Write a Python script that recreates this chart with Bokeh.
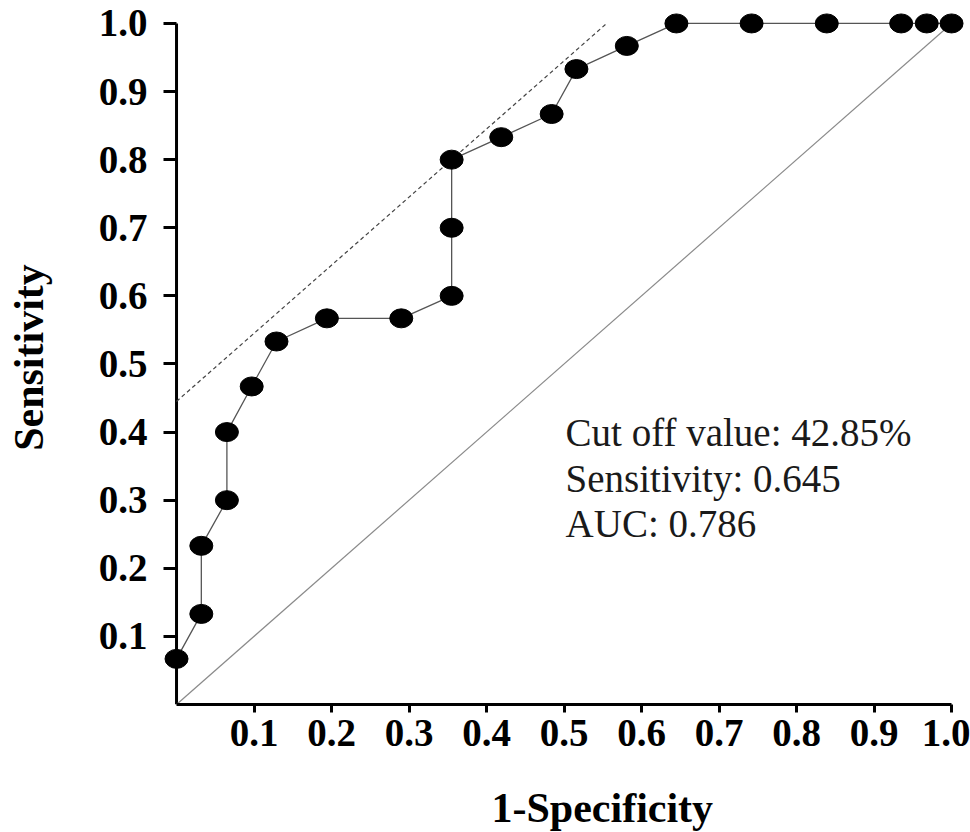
from bokeh.plotting import figure
from bokeh.models import Range1d, FixedTicker, Label, Title
from bokeh.embed import file_html
from bokeh.resources import INLINE

# ROC curve data (1-Specificity, Sensitivity)
fpr = [0.0, 0.032, 0.032, 0.065, 0.065, 0.097, 0.129, 0.194, 0.290, 0.355, 0.355, 0.355,
       0.419, 0.484, 0.516, 0.581, 0.645, 0.742, 0.839, 0.935, 0.968, 1.0]
tpr = [0.067, 0.133, 0.233, 0.300, 0.400, 0.467, 0.533, 0.567, 0.567, 0.600, 0.700, 0.800,
       0.833, 0.867, 0.933, 0.967, 1.0, 1.0, 1.0, 1.0, 1.0, 1.0]

# reference diagonal and tangent (dashed) line at cut-off point
diag_x = [0.0, 1.0]
diag_y = [0.0, 1.0]
tangent_x = [0.0, 0.555]
tangent_y = [0.445, 1.0]

ticks = [0.1, 0.2, 0.3, 0.4, 0.5, 0.6, 0.7, 0.8, 0.9, 1.0]
tick_labels = ["0.1", "0.2", "0.3", "0.4", "0.5", "0.6", "0.7", "0.8", "0.9", "1.0"]
notes = ["Cut off value: 42.85%", "Sensitivity: 0.645", "AUC: 0.786"]

SERIF = "Liberation Serif"

# frame slightly wider than the unit square so that the edge markers are not clipped
p = figure(width=970, height=832, output_backend="svg", toolbar_location=None,
           x_range=Range1d(-0.0168, 1.018), y_range=Range1d(0, 1.019),
           min_border_left=163, min_border_right=5, min_border_top=10, min_border_bottom=128)
p.outline_line_color = None
p.xgrid.visible = False
p.ygrid.visible = False
p.background_fill_color = "white"
p.border_fill_color = "white"

overrides = {t: s for t, s in zip(ticks, tick_labels)}
for ax in (p.xaxis[0], p.yaxis[0]):
    ax.ticker = FixedTicker(ticks=ticks)
    ax.major_label_overrides = overrides
    ax.minor_tick_line_color = None
    ax.axis_line_width = 3
    ax.axis_line_color = "black"
    ax.major_tick_line_width = 3
    ax.major_tick_line_color = "black"
    ax.major_label_text_font = SERIF
    ax.major_label_text_font_style = "bold"
    ax.major_label_text_font_size = "39px"
    ax.major_label_text_color = "black"
    ax.axis_label_text_font = SERIF
    ax.axis_label_text_font_style = "bold"
    ax.axis_label_text_font_size = "42px"
    ax.axis_label_text_color = "black"

# x axis: line only across 0..1; a blank axis label acts as spacer above the title
p.xaxis.bounds = (0, 1)
p.xaxis.major_tick_in = 0
p.xaxis.major_tick_out = 8
p.xaxis.major_label_standoff = 7
p.xaxis.axis_label = " "
p.xaxis.axis_label_text_font_size = "2px"
p.xaxis.axis_label_standoff = 29

# y axis: ticks drawn inward from the frame edge up to x = 0; the axis line is drawn at x = 0
p.yaxis.axis_line_color = None
p.yaxis.major_tick_in = 13
p.yaxis.major_tick_out = 0
p.yaxis.major_label_standoff = 16
p.yaxis.axis_label = "Sensitivity"
p.yaxis.axis_label_standoff = 44

p.line([0, 0], [0, 1], line_color="black", line_width=3)

# diagonal
p.line(diag_x, diag_y, line_color="#8a8a8a", line_width=1.2)
# tangent dashed
p.line(tangent_x, tangent_y, line_color="#444444", line_width=1.2, line_dash="4 3")
# ROC curve
p.line(fpr, tpr, line_color="#555555", line_width=1.3)
p.ellipse(x=fpr, y=tpr, width=23, height=19, width_units="screen", height_units="screen",
          fill_color="black", line_color="black")

# x axis title
p.add_layout(Title(text="1-Specificity", align="left", offset=328,
                   text_font=SERIF, text_font_style="bold", text_font_size="42px",
                   text_color="black", standoff=0), "below")

# annotation
for i, t in enumerate(notes):
    p.add_layout(Label(x=0.502, y=0.399 - i * 0.0668, text=t,
                       text_font=SERIF, text_font_size="39px",
                       text_align="left", text_baseline="alphabetic", text_color="#1a1a1a"))

open("out.html", "w").write(file_html(p, INLINE))
